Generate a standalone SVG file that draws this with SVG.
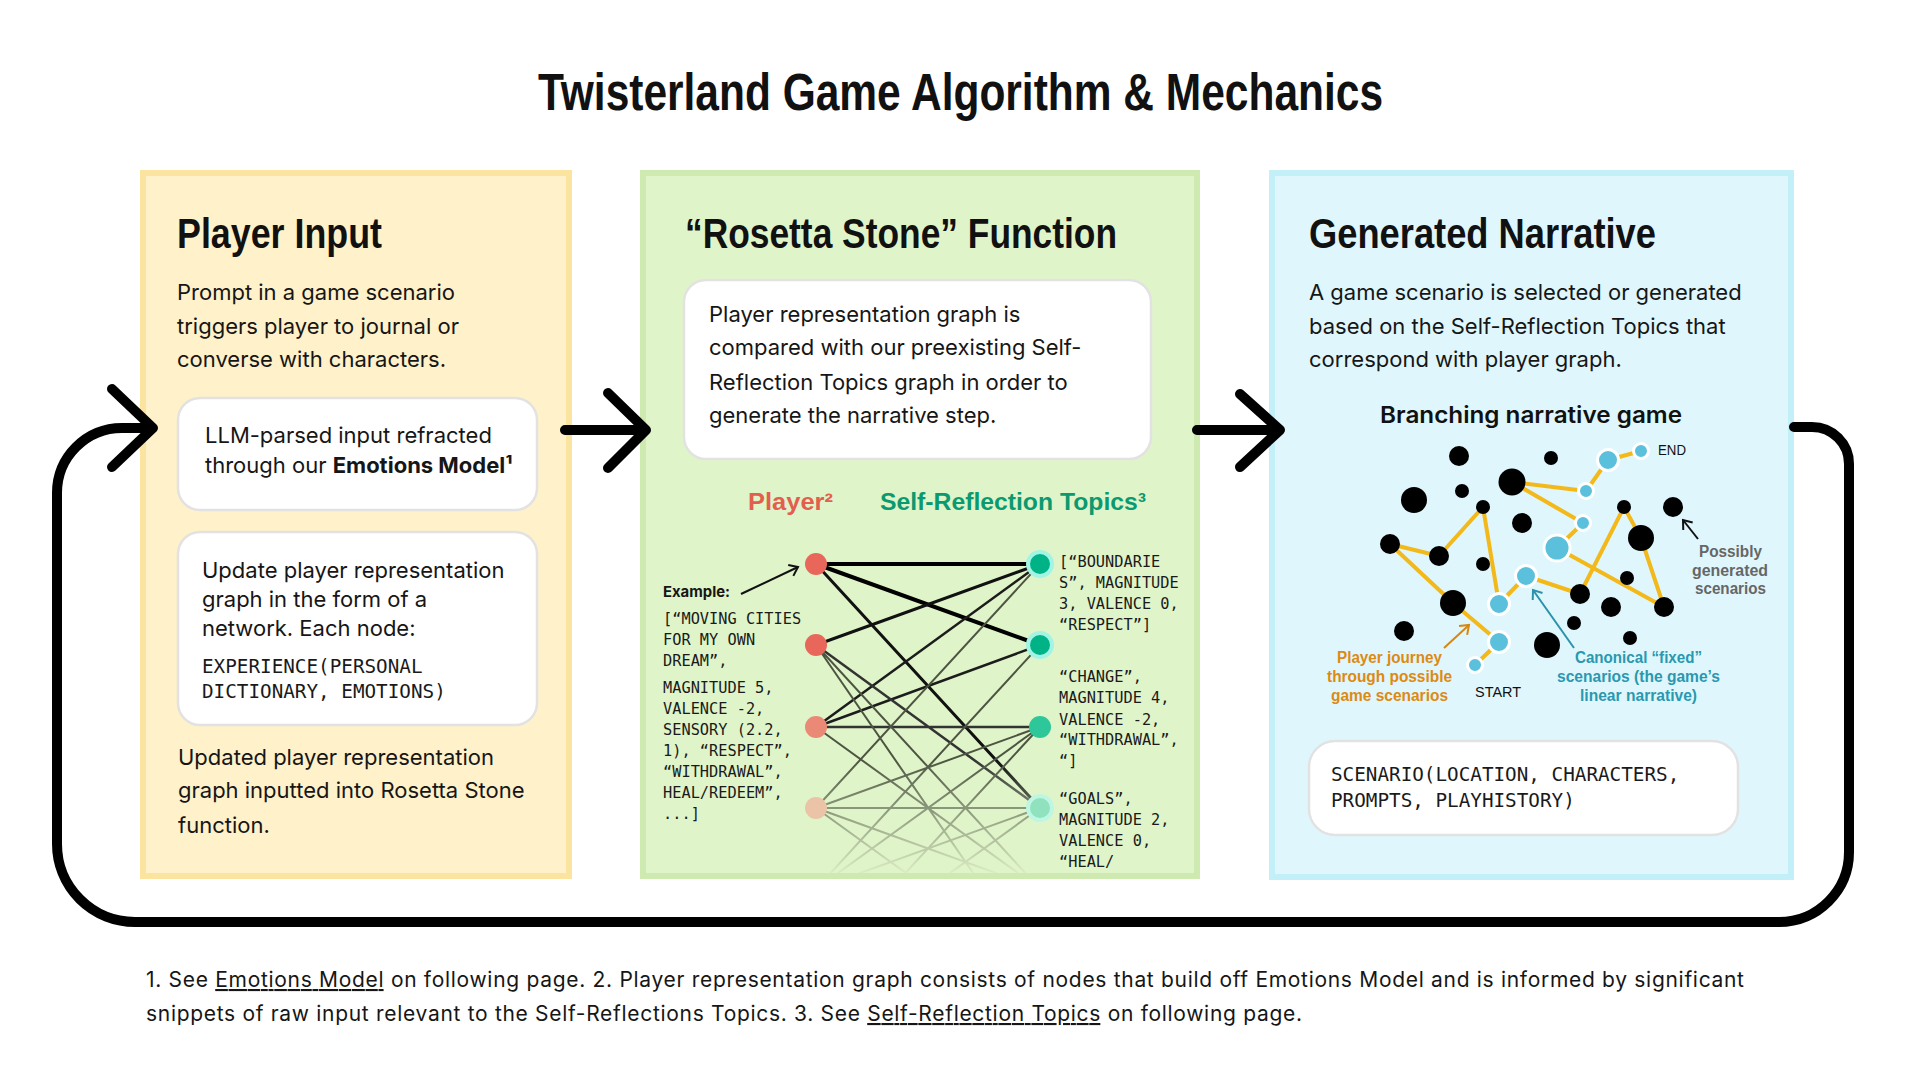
<svg xmlns="http://www.w3.org/2000/svg" width="1920" height="1080" viewBox="0 0 1920 1080">
<defs>
<style>
.h{font-family:"Liberation Sans Narrow","Liberation Sans",Arial,sans-serif;font-weight:700;fill:#111}
.body{font-family:Inter,"Liberation Sans",sans-serif;font-size:22px;fill:#161616}
.mono{font-family:"DejaVu Sans Mono","Liberation Mono",monospace;fill:#1a1a1a}
.box{fill:#fff;stroke:#e2e2e2;stroke-width:2.5}
.lbl{font-family:"Liberation Sans Narrow","Liberation Sans",Arial,sans-serif;font-size:16px;font-weight:700}
.cond{font-family:"Liberation Sans Narrow","Liberation Sans",Arial,sans-serif;font-size:15px;fill:#111}
.conn{fill:none;stroke:#000;stroke-width:10;stroke-linecap:round;stroke-linejoin:round}
.e1{stroke-linecap:round}
.mid{stroke:#4d5542;stroke-width:2}
.bk{fill:#000}
.cn{fill:#5bc0dc;stroke:#fff;stroke-width:3}
</style>
<marker id="ahBlack" viewBox="-10 -8 12 16" markerWidth="12" markerHeight="16" refX="0" refY="0" orient="auto" markerUnits="userSpaceOnUse"><path d="M-8,-6 L0,0 L-8,6" fill="none" stroke="#111" stroke-width="2"/></marker>
<marker id="ahOrange" viewBox="-10 -8 12 16" markerWidth="12" markerHeight="16" refX="0" refY="0" orient="auto" markerUnits="userSpaceOnUse"><path d="M-8,-6 L0,0 L-8,6" fill="none" stroke="#d8860f" stroke-width="2"/></marker>
<marker id="ahTeal" viewBox="-10 -8 12 16" markerWidth="12" markerHeight="16" refX="0" refY="0" orient="auto" markerUnits="userSpaceOnUse"><path d="M-8,-6 L0,0 L-8,6" fill="none" stroke="#2a93ab" stroke-width="2"/></marker>
<linearGradient id="fadeG" x1="0" y1="760" x2="0" y2="878" gradientUnits="userSpaceOnUse"><stop offset="0" stop-color="#fff"/><stop offset="1" stop-color="#000"/></linearGradient>
<mask id="fadeM" maskUnits="userSpaceOnUse" x="640" y="170" width="560" height="710"><rect x="640" y="170" width="560" height="710" fill="url(#fadeG)"/></mask>
<clipPath id="greenClip"><rect x="646" y="176" width="548" height="697"/></clipPath>
</defs>
<rect width="1920" height="1080" fill="#fff"/>

<g id="title">
<text x="538" y="110" class="h" font-size="51" textLength="845" lengthAdjust="spacingAndGlyphs">Twisterland Game Algorithm &amp; Mechanics</text>
</g>

<g id="node-player-input">
<rect x="143" y="173" width="426" height="703" fill="#fff1c9" stroke="#fbe49f" stroke-width="6"/>
<text x="177" y="248" class="h" font-size="42" textLength="205" lengthAdjust="spacingAndGlyphs">Player Input</text>
<text class="body" x="177" y="300">Prompt in a game scenario</text>
<text class="body" x="177" y="334">triggers player to journal or</text>
<text class="body" x="177" y="367">converse with characters.</text>
<g id="node-llm-parsed">
<rect class="box" x="178" y="398" width="359" height="112" rx="22"/>
<text class="body" x="205" y="443" font-size="21.3">LLM-parsed input refracted</text>
<text class="body" x="205" y="473" font-size="21.3">through our <tspan font-weight="700">Emotions Model¹</tspan></text>
</g>
<g id="node-update-graph">
<rect class="box" x="178" y="532" width="359" height="193" rx="22"/>
<text class="body" x="202" y="578" font-size="21.8">Update player representation</text>
<text class="body" x="202" y="607" font-size="21.8">graph in the form of a</text>
<text class="body" x="202" y="636" font-size="21.8">network. Each node:</text>
<text class="mono" x="202" y="673" font-size="19.3">EXPERIENCE(PERSONAL</text>
<text class="mono" x="202" y="698" font-size="19.3">DICTIONARY, EMOTIONS)</text>
</g>
<text class="body" x="178" y="765">Updated player representation</text>
<text class="body" x="178" y="798">graph inputted into Rosetta Stone</text>
<text class="body" x="178" y="833">function.</text>
</g>

<g id="node-rosetta">
<rect x="643" y="173" width="554" height="703" fill="#e0f4c9" stroke="#cfeab1" stroke-width="6"/>
<text x="685" y="248" class="h" font-size="42" textLength="432" lengthAdjust="spacingAndGlyphs">“Rosetta Stone” Function</text>
<g id="node-compare">
<rect class="box" x="684" y="280" width="467" height="179" rx="22"/>
<text class="body" x="709" y="322">Player representation graph is</text>
<text class="body" x="709" y="355">compared with our preexisting Self-</text>
<text class="body" x="709" y="390">Reflection Topics graph in order to</text>
<text class="body" x="709" y="423">generate the narrative step.</text>
</g>
<text x="748" y="510" font-family="'Liberation Sans Narrow','Liberation Sans',Arial,sans-serif" font-weight="700" font-size="24" fill="#e25f4f" textLength="85" lengthAdjust="spacingAndGlyphs">Player²</text>
<text x="880" y="510" font-family="'Liberation Sans Narrow','Liberation Sans',Arial,sans-serif" font-weight="700" font-size="24" fill="#0b9a70" textLength="266" lengthAdjust="spacingAndGlyphs">Self-Reflection Topics³</text>
<g clip-path="url(#greenClip)">
<g mask="url(#fadeM)" class="e1">
<path d="M816,564 L1040,564 M816,564 L1040,645" stroke="#000" stroke-width="4"/>
<path d="M816,564 L1040,808 M816,645 L1040,564" stroke="#111" stroke-width="3"/>
<path d="M816,727 L1040,564 M816,727 L1040,645" stroke="#1c1c1c" stroke-width="2.5"/>
<path d="M816,727 L1040,727 M816,645 L1040,808" stroke="#333" stroke-width="2.5"/>
<path class="mid" d="M816,645 L1040,889 M816,645 L1040,970 M816,727 L1040,889 M816,808 L1040,564 M816,808 L1040,727 M816,808 L1040,808 M816,808 L1040,889 M816,808 L1040,970 M816,889 L1040,645 M816,889 L1040,727 M816,889 L1040,808 M816,970 L1040,727 M816,970 L1040,808"/>
</g>
</g>
<circle cx="816" cy="564" r="11" fill="#e8675a"/>
<circle cx="816" cy="645" r="11" fill="#e8675a"/>
<circle cx="816" cy="727" r="11" fill="#ea8a76"/>
<circle cx="816" cy="808" r="11" fill="#ebc4a7"/>
<circle cx="1040" cy="564" r="12" fill="#00b386" stroke="#a3f4e4" stroke-width="4"/>
<circle cx="1040" cy="645" r="12" fill="#00b386" stroke="#a3f4e4" stroke-width="4"/>
<circle cx="1040" cy="727" r="11" fill="#2dc79a"/>
<circle cx="1040" cy="808" r="12" fill="#90e1bd" stroke="#bdf6e2" stroke-width="4"/>
<text x="663" y="597" font-family="Inter,'Liberation Sans',sans-serif" font-weight="700" font-size="15" fill="#161616" textLength="67" lengthAdjust="spacingAndGlyphs">Example:</text>
<path d="M741,594 L798,567" stroke="#111" stroke-width="2" fill="none" marker-end="url(#ahBlack)"/>
<g class="mono" font-size="15.3">
<text x="663" y="624">[“MOVING CITIES</text>
<text x="663" y="645">FOR MY OWN</text>
<text x="663" y="666">DREAM”,</text>
<text x="663" y="693">MAGNITUDE 5,</text>
<text x="663" y="714">VALENCE -2,</text>
<text x="663" y="735">SENSORY (2.2,</text>
<text x="663" y="756">1), “RESPECT”,</text>
<text x="663" y="777">“WITHDRAWAL”,</text>
<text x="663" y="798">HEAL/REDEEM”,</text>
<text x="663" y="819">...]</text>
<text x="1059" y="567">[“BOUNDARIE</text>
<text x="1059" y="588">S”, MAGNITUDE</text>
<text x="1059" y="609">3, VALENCE 0,</text>
<text x="1059" y="630">“RESPECT”]</text>
<text x="1059" y="682">“CHANGE”,</text>
<text x="1059" y="703">MAGNITUDE 4,</text>
<text x="1059" y="725">VALENCE -2,</text>
<text x="1059" y="745">“WITHDRAWAL”,</text>
<text x="1059" y="766">“]</text>
<text x="1059" y="804">“GOALS”,</text>
<text x="1059" y="825">MAGNITUDE 2,</text>
<text x="1059" y="846">VALENCE 0,</text>
<text x="1059" y="867">“HEAL/</text>
</g>
</g>

<g id="node-narrative">
<rect x="1272" y="173" width="519" height="704" fill="#dff7fc" stroke="#c3eff8" stroke-width="6"/>
<text x="1309" y="248" class="h" font-size="42" textLength="347" lengthAdjust="spacingAndGlyphs">Generated Narrative</text>
<text class="body" x="1309" y="300" font-size="21.7">A game scenario is selected or generated</text>
<text class="body" x="1309" y="334" font-size="21.7">based on the Self-Reflection Topics that</text>
<text class="body" x="1309" y="367" font-size="21.7">correspond with player graph.</text>
<text x="1380" y="423" font-family="Inter,'Liberation Sans',sans-serif" font-weight="600" font-size="23" fill="#111" textLength="302" lengthAdjust="spacingAndGlyphs">Branching narrative game</text>
<polyline points="1475,665 1499,642 1453,603 1390,544 1439,556 1483,507 1499,604 1526,576 1580,594 1624,507 1641,538 1664,607 1557,548 1583,523 1512,482 1586,491 1608,460 1641,451" fill="none" stroke="#f3b81a" stroke-width="4" stroke-linejoin="round"/>
<g class="bk">
<circle cx="1459" cy="456" r="10"/><circle cx="1551" cy="458" r="7"/><circle cx="1512" cy="482" r="13.5"/>
<circle cx="1414" cy="500" r="13"/><circle cx="1462" cy="491" r="7"/><circle cx="1483" cy="507" r="7"/>
<circle cx="1522" cy="523" r="10"/><circle cx="1390" cy="544" r="10"/><circle cx="1439" cy="556" r="10"/>
<circle cx="1483" cy="564" r="7"/><circle cx="1624" cy="507" r="7"/><circle cx="1673" cy="507" r="10"/>
<circle cx="1641" cy="538" r="13"/><circle cx="1627" cy="578" r="7"/><circle cx="1580" cy="594" r="10"/>
<circle cx="1611" cy="607" r="10"/><circle cx="1664" cy="607" r="10"/><circle cx="1453" cy="603" r="13"/>
<circle cx="1404" cy="631" r="10"/><circle cx="1574" cy="623" r="7"/><circle cx="1547" cy="645" r="13"/>
<circle cx="1630" cy="638" r="7"/>
</g>
<g>
<circle class="cn" cx="1475" cy="665" r="7.5"/><circle class="cn" cx="1499" cy="642" r="10.5"/>
<circle class="cn" cx="1499" cy="604" r="10.5"/><circle class="cn" cx="1526" cy="576" r="10.5"/>
<circle class="cn" cx="1557" cy="548" r="13"/><circle class="cn" cx="1583" cy="523" r="7.5"/>
<circle class="cn" cx="1586" cy="491" r="7.5"/><circle class="cn" cx="1608" cy="460" r="10.5"/>
<circle class="cn" cx="1641" cy="451" r="7.5"/>
</g>
<text class="cond" x="1658" y="455" textLength="28" lengthAdjust="spacingAndGlyphs">END</text>
<text class="cond" x="1475" y="697" textLength="46" lengthAdjust="spacingAndGlyphs">START</text>
<path d="M1698,539 L1683,520" stroke="#111" stroke-width="2" fill="none" marker-end="url(#ahBlack)"/>
<path d="M1444,648 L1469,625" stroke="#d8860f" stroke-width="2" fill="none" marker-end="url(#ahOrange)"/>
<path d="M1574,648 L1533,590" stroke="#2a93ab" stroke-width="2" fill="none" marker-end="url(#ahTeal)"/>
<g class="lbl" fill="#dd8a12">
<text x="1337" y="663" textLength="105" lengthAdjust="spacingAndGlyphs">Player journey</text>
<text x="1327" y="682" textLength="125" lengthAdjust="spacingAndGlyphs">through possible</text>
<text x="1331" y="701" textLength="117" lengthAdjust="spacingAndGlyphs">game scenarios</text>
</g>
<g class="lbl" fill="#2a98b0">
<text x="1575" y="663" textLength="127" lengthAdjust="spacingAndGlyphs">Canonical “fixed”</text>
<text x="1557" y="682" textLength="163" lengthAdjust="spacingAndGlyphs">scenarios (the game’s</text>
<text x="1580" y="701" textLength="117" lengthAdjust="spacingAndGlyphs">linear narrative)</text>
</g>
<g class="lbl" fill="#666">
<text x="1699" y="557" textLength="63" lengthAdjust="spacingAndGlyphs">Possibly</text>
<text x="1692" y="576" textLength="76" lengthAdjust="spacingAndGlyphs">generated</text>
<text x="1695" y="594" textLength="71" lengthAdjust="spacingAndGlyphs">scenarios</text>
</g>
<g id="node-scenario">
<rect class="box" x="1309" y="741" width="429" height="94" rx="26"/>
<text class="mono" x="1331" y="781" font-size="19.3">SCENARIO(LOCATION, CHARACTERS,</text>
<text class="mono" x="1331" y="807" font-size="19.3">PROMPTS, PLAYHISTORY)</text>
</g>
</g>

<g id="connectors">
<path class="conn" d="M565,430 H645 M608,393 L646,430 L608,468"/>
<path class="conn" d="M1197,430 H1279 M1240,394 L1280,430 L1240,467"/>
<path class="conn" d="M1794,427 H1812 A37,37 0 0 1 1849,464 V852 A70,70 0 0 1 1779,922 H135 A78,78 0 0 1 57,844 V493 A65,65 0 0 1 122,428 H152 M112,389 L153,428 L112,467"/>
</g>

<g id="footnote" font-family="Inter,'Liberation Sans',sans-serif" font-size="21" fill="#161616">
<text x="146" y="987" textLength="1598" lengthAdjust="spacing">1. See <tspan text-decoration="underline">Emotions Model</tspan> on following page. 2. Player representation graph consists of nodes that build off Emotions Model and is informed by significant</text>
<text x="146" y="1021" textLength="1156" lengthAdjust="spacing">snippets of raw input relevant to the Self-Reflections Topics. 3. See <tspan text-decoration="underline">Self-Reflection Topics</tspan> on following page.</text>
</g>
</svg>
